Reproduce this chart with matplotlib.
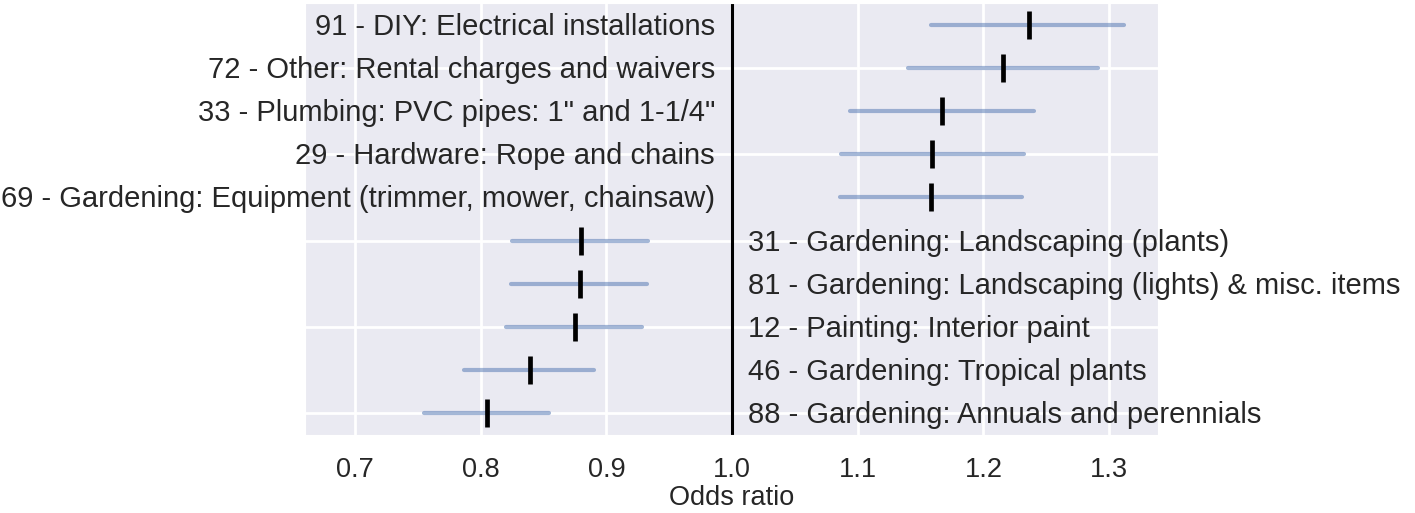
import numpy as np
import matplotlib
matplotlib.use("Agg")
import matplotlib.pyplot as plt
import seaborn as sns

# Forest plot of odds ratios with 95% CIs, bottom row first
labels = [
    "88 - Gardening: Annuals and perennials",
    "46 - Gardening: Tropical plants",
    "12 - Painting: Interior paint",
    "81 - Gardening: Landscaping (lights) & misc. items",
    "31 - Gardening: Landscaping (plants)",
    "69 - Gardening: Equipment (trimmer, mower, chainsaw)",
    "29 - Hardware: Rope and chains",
    '33 - Plumbing: PVC pipes: 1" and 1-1/4"',
    "72 - Other: Rental charges and waivers",
    "91 - DIY: Electrical installations",
]
odds = [0.805, 0.839, 0.875, 0.879, 0.880, 1.158, 1.159, 1.167, 1.216, 1.236]
ci_low = [0.755, 0.787, 0.820, 0.824, 0.825, 1.086, 1.087, 1.094, 1.140, 1.158]
ci_high = [0.854, 0.890, 0.928, 0.932, 0.933, 1.231, 1.232, 1.240, 1.291, 1.312]

sns.set_style("darkgrid")
plt.rcParams['font.family'] = ['Liberation Sans', 'DejaVu Sans']

fig = plt.figure(figsize=(14.15, 5.13), dpi=100)
ax = fig.add_axes([0.2155, 0.152, 0.6029, 0.842])

y = np.arange(len(labels))
ax.hlines(y, ci_low, ci_high, color='#4c72b0', alpha=0.5, lw=3, capstyle='round')
ax.plot(odds, y, ls='none', marker='|', ms=20, mew=3.4, color='black')
ax.axvline(1.0, color='black', lw=2.2)

for yi, lab, o in zip(y, labels, odds):
    if o > 1:
        ax.annotate(lab, (1.0, yi), xytext=(-17, -2), textcoords='offset pixels',
                    ha='right', va='center', fontsize=21, color='#262626')
    else:
        ax.annotate(lab, (1.0, yi), xytext=(16, -2), textcoords='offset pixels',
                    ha='left', va='center', fontsize=21, color='#262626')

ax.set_xlim(0.66, 1.339)
ax.set_ylim(-0.5, 9.5)
ax.set_xticks(np.arange(0.7, 1.31, 0.1))
ax.set_xticklabels(['0.7', '0.8', '0.9', '1.0', '1.1', '1.2', '1.3'])
ax.set_yticks([0, 2, 4, 6, 8])
ax.set_yticklabels([])
ax.tick_params(axis='x', labelsize=19.5, pad=12, colors='#262626')
ax.set_xlabel('Odds ratio', fontsize=19.5, color='#262626', labelpad=2)
for g in ax.get_xgridlines() + ax.get_ygridlines():
    g.set_linewidth(2)

fig.savefig('out.png', dpi=100)
